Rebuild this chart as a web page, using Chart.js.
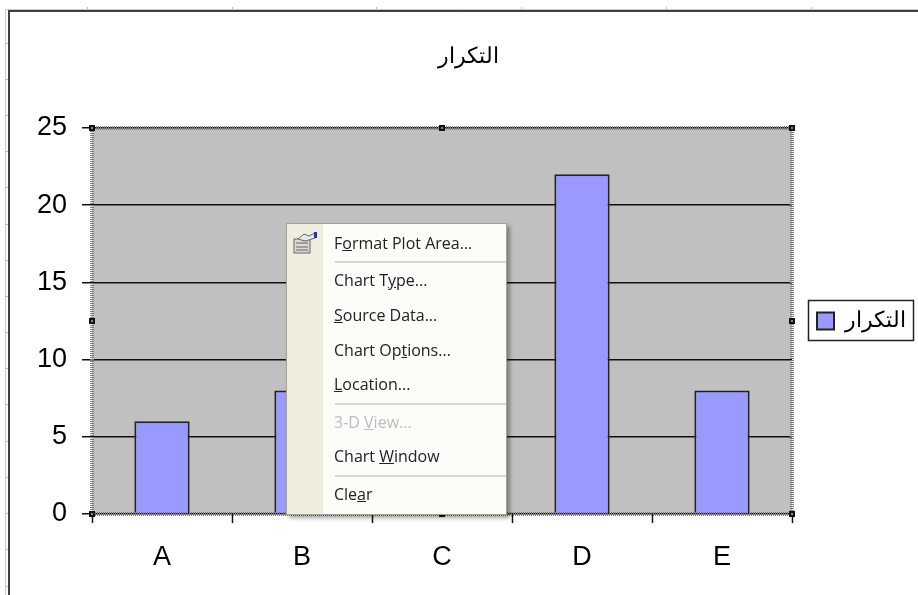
<!DOCTYPE html>
<html><head><meta charset="utf-8">
<script src="https://cdn.jsdelivr.net/npm/chart.js@4"></script>
<style>
html,body{margin:0;padding:0;background:#fff;width:918px;height:595px;overflow:hidden}
#wrap{position:relative;width:918px;height:595px}
canvas{position:absolute;left:0;top:0}
#menu{position:absolute;left:286px;top:223px;width:219px;height:290px;background:#FCFCF9;border:1px solid #A5A295;box-sizing:content-box;box-shadow:3px 3px 4px rgba(0,0,0,.35);font-family:"Open Sans","Noto Sans",sans-serif;font-size:16px;color:#222;overflow:hidden}
#gutter{position:absolute;left:0;top:0;width:36px;height:100%;background:#EFEDDE}
.it{position:absolute;left:47px;white-space:nowrap;line-height:20px;height:20px;transform:translateY(-10px)}
.sep{position:absolute;left:48px;right:0;height:2px;background:#D8D6CC}
.dis{color:#BDBDBD}
#ic{position:absolute;left:6px;top:7px}
</style></head><body>
<div id="wrap"><canvas id="c" width="918" height="595"></canvas>
<div id="menu"><div id="gutter"></div>
<svg id="ic" width="26" height="24" viewBox="0 0 26 24"><rect x="1" y="8" width="16" height="14" fill="#D8D8D8" stroke="#666"/><path d="M3 12h12M3 16h12M3 19h12" stroke="#666"/><path d="M5 8l6-5 5 2 6-3v5l-6 2-4 1z" fill="#E8E8E8" stroke="#666"/><rect x="21" y="1" width="3" height="6" fill="#33339A"/></svg>
</div></div>
<script>
const categories = ["A","B","C","D","E"];
const seriesName = "التكرار";
const seriesValues = [6,8,6,22,8];
const yTicks = [0,5,10,15,20,25];
const menuItems = [
 ["F<u>o</u>rmat Plot Area...",19,false],["Chart T<u>y</u>pe...",56,false],["<u>S</u>ource Data...",91,false],
 ["Chart Op<u>t</u>ions...",126,false],["<u>L</u>ocation...",160,false],["3-D <u>V</u>iew...",198,true],
 ["Chart <u>W</u>indow",232,false],["Cle<u>a</u>r",270,false]];
const menuSeps = [37,179,251];

const menu = document.getElementById('menu');
menuItems.forEach(([t,y,d])=>{const e=document.createElement('div');e.className='it'+(d?' dis':'');e.style.top=y+'px';e.innerHTML=t;menu.appendChild(e);});
menuSeps.forEach(y=>{const e=document.createElement('div');e.className='sep';e.style.top=y+'px';menu.appendChild(e);});

const FONT = "'Liberation Sans', Arial, sans-serif";
const frame = {
  id:'frame',
  beforeLayout(chart){
    const lg = chart.legend;
    if(lg && !lg._wrapped){ const f=lg.fit; lg.fit=function(){f.call(this); this.width=126;}; lg._wrapped=true; }
  },
  afterLayout(chart){
    const t = chart.titleBlock; t.left=18; t.right=918;
  },
  beforeDraw(chart){
    const c=chart.ctx, a=chart.chartArea;
    c.save();
    c.fillStyle='#fff'; c.fillRect(0,0,918,595);
    c.strokeStyle='#BBBBBB'; c.lineWidth=1;
    for(let x=87;x<918;x+=144.7){c.beginPath();c.moveTo(Math.round(x)+.5,7);c.lineTo(Math.round(x)+.5,11);c.stroke();}
    for(let y=42.5;y<595;y+=36.2){c.beginPath();c.moveTo(5,Math.round(y)+.5);c.lineTo(9,Math.round(y)+.5);c.stroke();}
    c.strokeStyle='#C8C8C8'; c.lineWidth=1;
    c.beginPath();c.moveTo(5.5,595);c.lineTo(5.5,9.5);c.lineTo(918,9.5);c.stroke();
    c.strokeStyle='#404040'; c.lineWidth=2;
    c.beginPath();c.moveTo(9,595);c.lineTo(9,11);c.lineTo(918,11);c.stroke();
    c.fillStyle='#C0C0C0'; c.fillRect(a.left,a.top,a.right-a.left,a.bottom-a.top);
    c.restore();
  },
  afterDatasetsDraw(chart){
    const c=chart.ctx, a=chart.chartArea;
    c.save();
    c.strokeStyle='#7C7C7C'; c.lineWidth=4; c.setLineDash([1,1]);
    c.strokeRect(a.left,a.top,a.right-a.left,a.bottom-a.top);
    c.setLineDash([]);
    const mx=(a.left+a.right)/2,my=(a.top+a.bottom)/2;
    [[a.left,a.top],[mx,a.top],[a.right,a.top],[a.left,my],[a.right,my],[a.left,a.bottom],[mx,a.bottom],[a.right,a.bottom]].forEach(([x,y])=>{
      c.fillStyle='#111'; c.fillRect(x-3,y-3,6,6);
      c.fillStyle='#888'; c.fillRect(x-1,y-1,2,2);
    });
    c.restore();
  },
  afterDraw(chart){
    const c=chart.ctx;
    c.save(); c.strokeStyle='#222'; c.lineWidth=1.5;
    c.strokeRect(808.5,300.5,105,40);
    c.restore();
  }
};
new Chart(document.getElementById('c'),{
  type:'bar',
  data:{labels:categories,datasets:[{label:seriesName,data:seriesValues,backgroundColor:'#9999FF',borderColor:'#222',borderWidth:2,barPercentage:0.395,categoryPercentage:1}]},
  plugins:[frame],
  options:{
    responsive:false,animation:false,events:[],
    layout:{padding:{left:0,right:0,top:0,bottom:0}},
    plugins:{
      tooltip:{enabled:false},
      title:{display:true,text:seriesName,color:'#000',font:{family:FONT,size:22,weight:'normal'},padding:{top:44,bottom:57.6}},
      legend:{position:'right',fullSize:false,labels:{color:'#000',font:{family:FONT,size:22},boxWidth:17,boxHeight:17,padding:25,usePointStyle:false}}
    },
    scales:{
      x:{
        offset:true,
        afterFit(s){s.height=81;},
        grid:{offset:true,drawOnChartArea:false,drawTicks:true,tickLength:9,tickColor:'#111',tickWidth:1.5},
        border:{display:false},
        ticks:{color:'#000',font:{family:FONT,size:27},padding:18,maxRotation:0}
      },
      y:{
        min:0,max:25,
        afterFit(s){s.width=92;},
        afterBuildTicks(s){s.ticks=yTicks.map(v=>({value:v}));},
        grid:{color:'#111',lineWidth:1.5,tickLength:10,tickColor:'#111'},
        border:{display:false},
        ticks:{color:'#000',font:{family:FONT,size:27},padding:15}
      }
    }
  }
});
</script></body></html>
